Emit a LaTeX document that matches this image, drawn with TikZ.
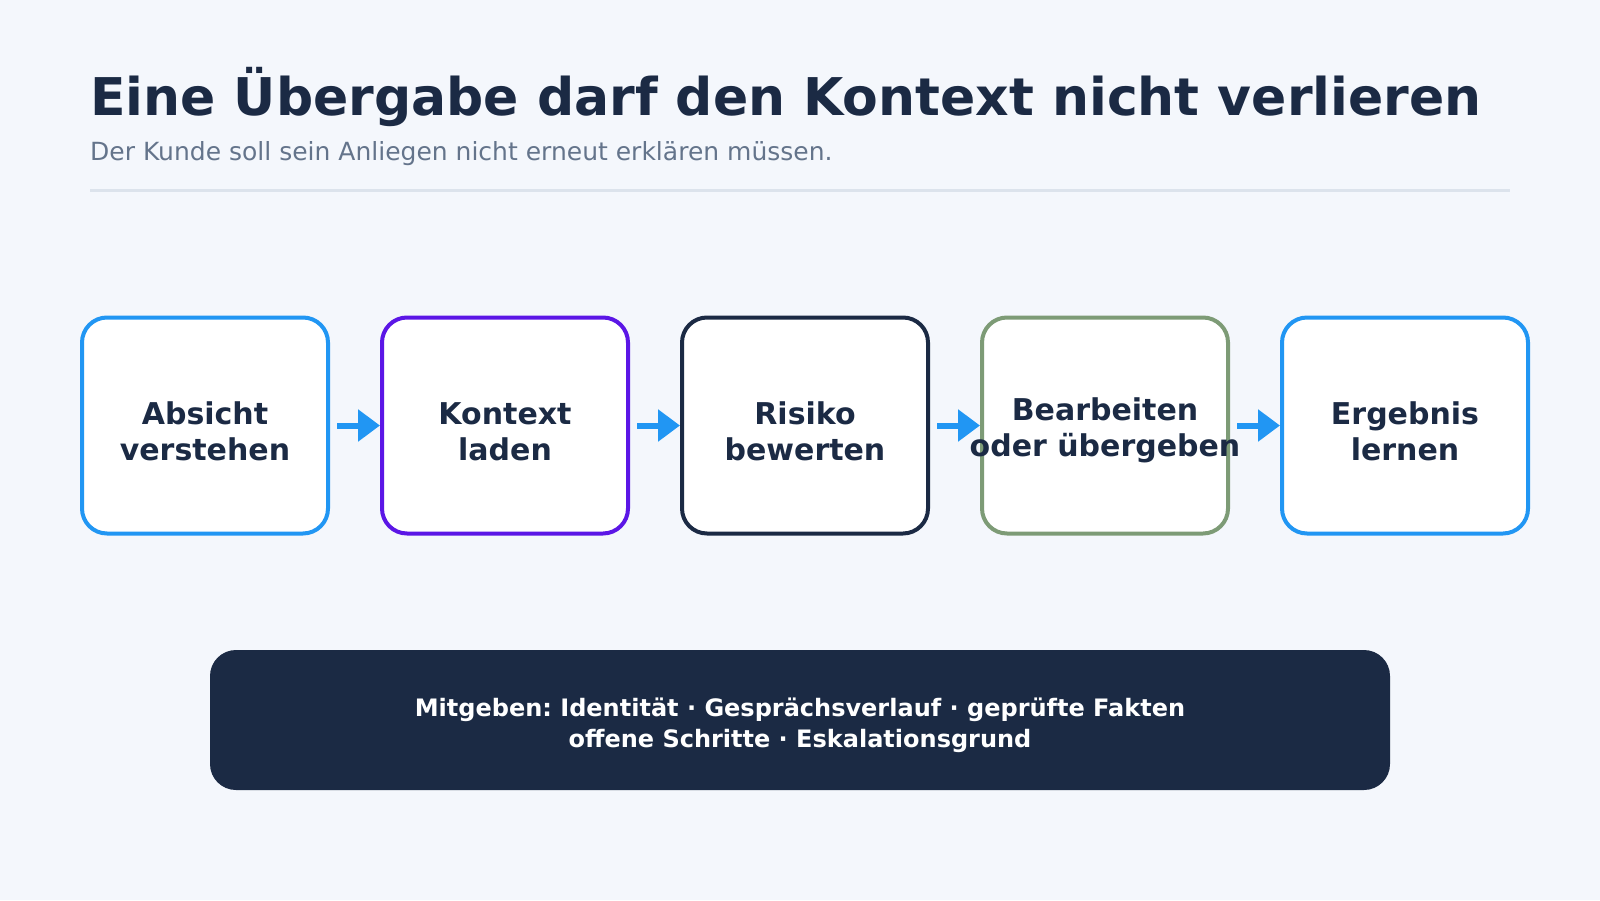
\documentclass[tikz,border=0pt]{standalone}
\usepackage{fontspec}
\setmainfont{DejaVu Sans}
\usetikzlibrary{arrows.meta}
\definecolor{bg}{HTML}{F4F7FC}
\definecolor{navy}{HTML}{1B2A44}
\definecolor{subgray}{HTML}{64748B}
\definecolor{rulegray}{HTML}{DCE3EC}
\definecolor{cblue}{HTML}{2196F3}
\definecolor{cpurple}{HTML}{5B16E6}
\definecolor{cgreen}{HTML}{7D9B76}
\frenchspacing
\begin{document}
\begin{tikzpicture}[x=1pt,y=-1pt,
  stepbox/.style={draw, line width=4pt, rounded corners=25pt, fill=white,
    minimum width=246pt, minimum height=216pt, inner sep=0pt},
  steptext/.style={inner sep=0pt, align=center, text=navy,
    font=\bfseries\fontsize{30}{36}\selectfont},
  flow/.style={draw=cblue, line width=6pt, -{Triangle[length=22pt,width=31pt]}},
  note/.style={fill=navy, rounded corners=26pt, minimum width=1180pt, minimum height=140pt,
    inner sep=0pt},
  notetext/.style={inner sep=0pt, align=center, text=white,
    font=\bfseries\fontsize{24}{31}\selectfont}]
\fill[bg] (0,0) rectangle (1600,900);
\useasboundingbox (0,0) rectangle (1600,900);
\node[anchor=base west, text=navy, font=\bfseries\fontsize{52}{60}\selectfont, inner sep=0pt] (title) at (90,115) {Eine Übergabe darf den Kontext nicht verlieren};
\node[anchor=base west, text=subgray, font=\fontsize{25}{30}\selectfont, inner sep=0pt] (subtitle) at (90,160) {Der Kunde soll sein Anliegen nicht erneut erklären müssen.};
\coordinate (r1) at (90,190);
\coordinate (r2) at (1510,190);
\draw[rulegray, line width=3pt] (r1) -- (r2);
\node[stepbox, draw=cblue] (b1) at (205,425.5) {};
\node[stepbox, draw=cpurple] (b2) at (505,425.5) {};
\node[stepbox, draw=navy] (b3) at (805,425.5) {};
\node[stepbox, draw=cgreen] (b4) at (1105,425.5) {};
\node[stepbox, draw=cblue] (b5) at (1405,425.5) {};
\node[steptext] (t1) at ([yshift=-6pt]b1.center) {Absicht\\verstehen};
\node[steptext] (t2) at ([yshift=-6pt]b2.center) {Kontext\\laden};
\node[steptext] (t3) at ([yshift=-6pt]b3.center) {Risiko\\bewerten};
\node[steptext] (t4) at ([yshift=-5pt]b4.center) {Bearbeiten\\oder übergeben};
\node[steptext] (t5) at ([yshift=-6pt]b5.center) {Ergebnis\\lernen};
\foreach \a/\b in {b1/b2,b2/b3,b3/b4,b4/b5}
  \draw[flow] ([xshift=7pt]\a.east) -- (\b.west);
\node[note] (n) at (800,720) {};
\node[notetext] (nt) at ([yshift=-5pt]n.center) {Mitgeben: Identität · Gesprächsverlauf · geprüfte Fakten\\offene Schritte · Eskalationsgrund};
\end{tikzpicture}
\end{document}
